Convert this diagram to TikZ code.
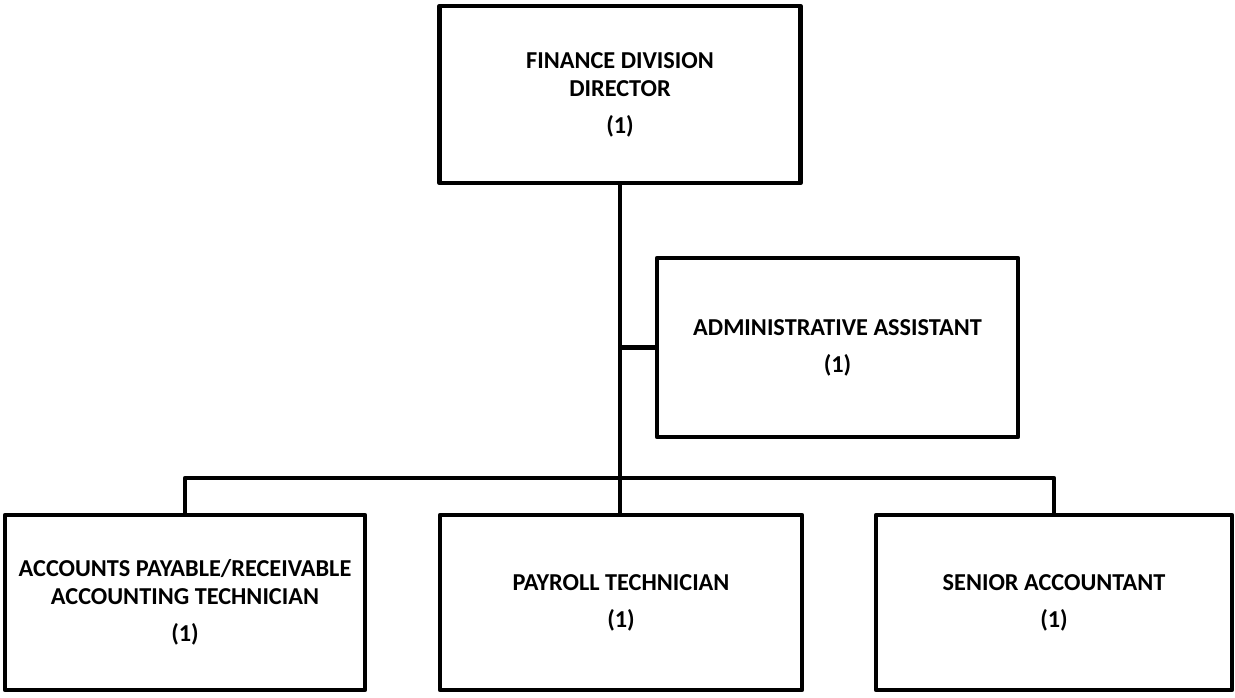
\documentclass[tikz,border=0pt]{standalone}
\usepackage{fontspec}
\setmainfont{Carlito}
\begin{document}
\begin{tikzpicture}[x=1pt,y=-1pt,
  box/.style={draw,line width=4.8pt,line join=round,inner sep=0pt,outer sep=0pt,
    align=center,font=\fontsize{24.3}{28}\selectfont\bfseries},
  conn/.style={line width=4.8pt,line join=round}]
\useasboundingbox (0,0) rectangle (1235,697);
\node[box,minimum width=361pt,minimum height=177pt] (dir) at (620,94.5)
  {FINANCE DIVISION\\DIRECTOR\\[9pt](1)};
\node[box,minimum width=361pt,minimum height=179pt] (adm) at (837.5,347.5)
  {ADMINISTRATIVE ASSISTANT\\[9pt](1)};
\node[box,minimum width=360pt,minimum height=175pt] (apr) at (185,602.5)
  {ACCOUNTS PAYABLE/RECEIVABLE\\ACCOUNTING TECHNICIAN\\[9pt](1)};
\node[box,minimum width=362pt,minimum height=175pt] (pay) at (621,602.5)
  {PAYROLL TECHNICIAN\\[9pt](1)};
\node[box,minimum width=356pt,minimum height=175pt] (sen) at (1054,602.5)
  {SENIOR ACCOUNTANT\\[9pt](1)};
\coordinate (bus) at (620,478);
\draw[conn] (dir.south) -- (dir.south |- pay.north);
\draw[conn] (dir.south |- adm.west) -- (adm.west);
\draw[conn] (apr.north) |- (bus) -| (sen.north);
\end{tikzpicture}
\end{document}
